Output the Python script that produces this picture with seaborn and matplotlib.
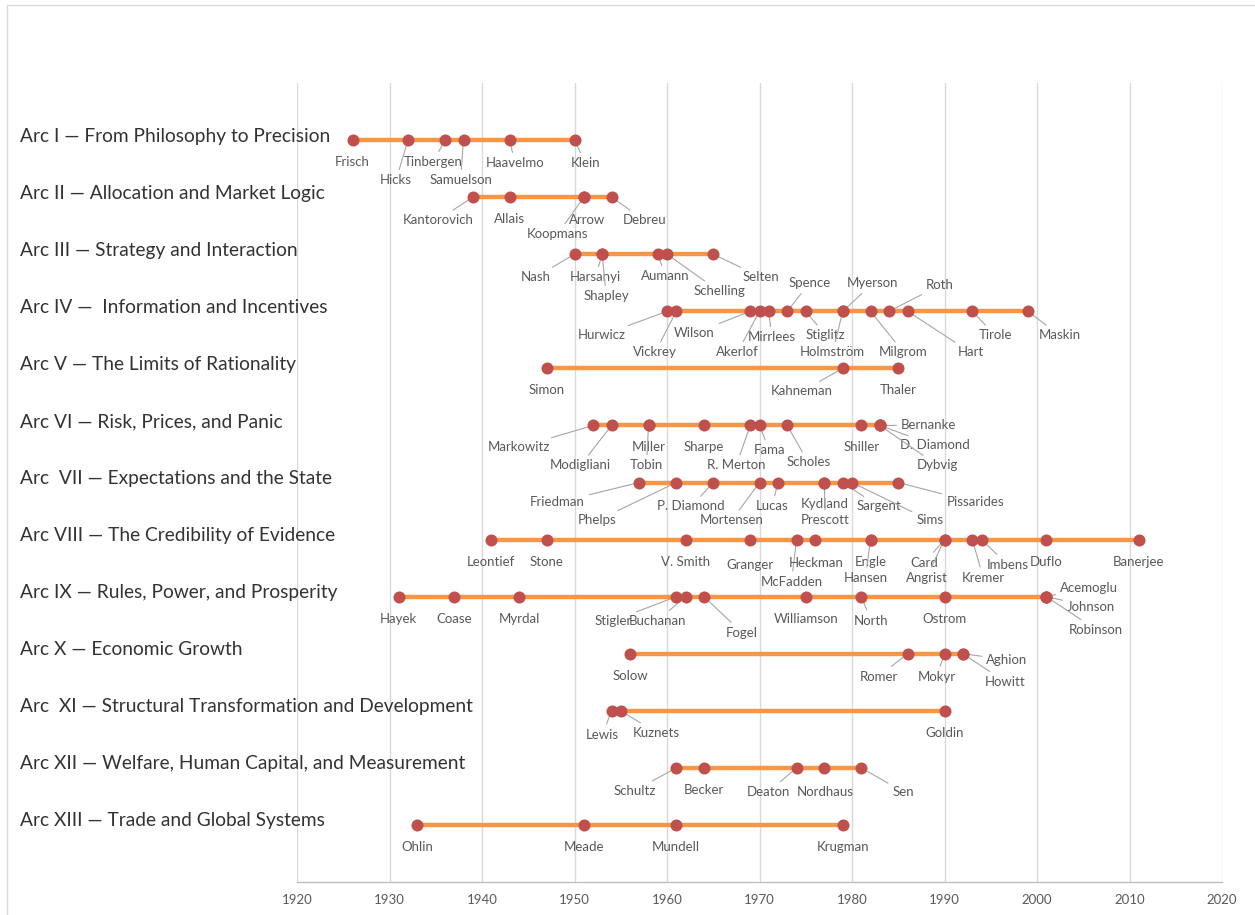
import numpy as np
import pandas as pd
import matplotlib.pyplot as plt
import seaborn as sns
from matplotlib import transforms
from matplotlib.patches import Rectangle

# ---------------------------------------------------------------------
# data: laureates per arc, placed at the year of their key contribution
# ---------------------------------------------------------------------
arc_labels = [
    "Arc I \u2014 From Philosophy to Precision",
    "Arc II \u2014 Allocation and Market Logic",
    "Arc III \u2014 Strategy and Interaction",
    "Arc IV \u2014  Information and Incentives",
    "Arc V \u2014 The Limits of Rationality",
    "Arc VI \u2014 Risk, Prices, and Panic",
    "Arc  VII \u2014 Expectations and the State",
    "Arc VIII \u2014 The Credibility of Evidence",
    "Arc IX \u2014 Rules, Power, and Prosperity",
    "Arc X \u2014 Economic Growth",
    "Arc  XI \u2014 Structural Transformation and Development",
    "Arc XII \u2014 Welfare, Human Capital, and Measurement",
    "Arc XIII \u2014 Trade and Global Systems",
]

arc1_names = ["Frisch", "Hicks", "Tinbergen", "Samuelson", "Haavelmo", "Klein"]
arc1_years = [1926, 1932, 1936, 1938, 1943, 1950]

arc2_names = ["Kantorovich", "Allais", "Arrow", "Koopmans", "Debreu"]
arc2_years = [1939, 1943, 1951, 1951, 1954]

arc3_names = ["Nash", "Harsanyi", "Shapley", "Aumann", "Schelling", "Selten"]
arc3_years = [1950, 1953, 1953, 1959, 1960, 1965]

arc4_names = ["Hurwicz", "Vickrey", "Wilson", "Akerlof", "Mirrlees", "Spence", "Stiglitz",
              "Myerson", "Holmstr\u00f6m", "Milgrom", "Roth", "Hart", "Tirole", "Maskin"]
arc4_years = [1960, 1961, 1969, 1970, 1971, 1973, 1975, 1979, 1979, 1982, 1984, 1986, 1993, 1999]

arc5_names = ["Simon", "Kahneman", "Thaler"]
arc5_years = [1947, 1979, 1985]

arc6_names = ["Markowitz", "Modigliani", "Miller", "Tobin", "Sharpe", "R. Merton", "Fama",
              "Scholes", "Shiller", "Bernanke", "D. Diamond", "Dybvig"]
arc6_years = [1952, 1954, 1958, 1958, 1964, 1969, 1970, 1973, 1981, 1983, 1983, 1983]

arc7_names = ["Friedman", "Phelps", "P. Diamond", "Mortensen", "Lucas", "Kydland", "Prescott",
              "Sargent", "Sims", "Pissarides"]
arc7_years = [1957, 1961, 1965, 1970, 1972, 1977, 1977, 1979, 1980, 1985]

arc8_names = ["Leontief", "Stone", "V. Smith", "Granger", "McFadden", "Heckman", "Engle", "Hansen",
              "Card", "Angrist", "Kremer", "Imbens", "Duflo", "Banerjee"]
arc8_years = [1941, 1947, 1962, 1969, 1974, 1976, 1982, 1982, 1990, 1990, 1993, 1994, 2001, 2011]

arc9_names = ["Hayek", "Coase", "Myrdal", "Stigler", "Buchanan", "Fogel", "Williamson", "North",
              "Ostrom", "Acemoglu", "Johnson", "Robinson"]
arc9_years = [1931, 1937, 1944, 1961, 1962, 1964, 1975, 1981, 1990, 2001, 2001, 2001]

arc10_names = ["Solow", "Romer", "Mokyr", "Aghion", "Howitt"]
arc10_years = [1956, 1986, 1990, 1992, 1992]

arc11_names = ["Lewis", "Kuznets", "Goldin"]
arc11_years = [1954, 1955, 1990]

arc12_names = ["Schultz", "Becker", "Deaton", "Nordhaus", "Sen"]
arc12_years = [1961, 1964, 1974, 1977, 1981]

arc13_names = ["Ohlin", "Meade", "Mundell", "Krugman"]
arc13_years = [1933, 1951, 1961, 1979]

year_ticks = list(range(1920, 2021, 10))

# ---------------------------------------------------------------------
# layout: data label offsets from their marker, in pixels (right, down)
# ---------------------------------------------------------------------
LABEL_OFFSETS = {
    "Hicks": (-12, 40), "Tinbergen": (-12, 22), "Samuelson": (-3, 40), "Haavelmo": (5, 23),
    "Klein": (11, 23),
    "Kantorovich": (-35, 23), "Arrow": (3, 23), "Koopmans": (-26, 37), "Debreu": (33, 23),
    "Nash": (-39, 23), "Harsanyi": (-7, 23), "Shapley": (4, 42), "Aumann": (8, 22),
    "Schelling": (52, 37), "Selten": (48, 23),
    "Hurwicz": (-65, 24), "Vickrey": (-21, 41), "Wilson": (-56, 22), "Akerlof": (-22, 41),
    "Mirrlees": (3, 26), "Spence": (22, -28), "Stiglitz": (20, 24), "Myerson": (30, -28),
    "Holmstr\u00f6m": (-10, 41), "Milgrom": (33, 41), "Roth": (51, -26), "Hart": (63, 41),
    "Tirole": (23, 24), "Maskin": (32, 24),
    "Kahneman": (-41, 23),
    "Markowitz": (-74, 22), "Modigliani": (-31, 40), "Tobin": (-2, 40), "R. Merton": (-14, 40),
    "Fama": (10, 25), "Scholes": (21, 37), "Bernanke": (49, 0), "D. Diamond": (55, 20),
    "Dybvig": (58, 40),
    "Friedman": (-82, 20), "Phelps": (-79, 38), "P. Diamond": (-22, 24), "Mortensen": (-28, 38),
    "Lucas": (-6, 24), "Prescott": (1, 38), "Sargent": (36, 24), "Sims": (78, 38),
    "Pissarides": (77, 20),
    "Granger": (0, 25), "McFadden": (-5, 42), "Heckman": (1, 23), "Hansen": (-5, 38),
    "Card": (-20, 23), "Angrist": (-18, 38), "Kremer": (11, 38), "Imbens": (26, 25),
    "Stigler": (-63, 24), "Buchanan": (-28, 24), "Fogel": (38, 36), "North": (10, 24),
    "Acemoglu": (43, -9), "Johnson": (45, 10), "Robinson": (50, 33),
    "Romer": (-29, 23), "Mokyr": (-8, 23), "Aghion": (44, 6), "Howitt": (42, 28),
    "Lewis": (-9, 24), "Kuznets": (36, 22),
    "Schultz": (-42, 23), "Deaton": (-28, 24), "Nordhaus": (1, 24), "Sen": (42, 24),
}
DEFAULT_OFFSET = (0, 22)

LINE_COLOR = "#F79646"
DOT_COLOR = "#C0504D"
NAME_COLOR = "#595959"
LEADER_COLOR = "#A6A6A6"
GRID_COLOR = "#D9D9D9"

# ---------------------------------------------------------------------
# build long table
# ---------------------------------------------------------------------
all_names = [arc1_names, arc2_names, arc3_names, arc4_names, arc5_names, arc6_names, arc7_names,
             arc8_names, arc9_names, arc10_names, arc11_names, arc12_names, arc13_names]
all_years = [arc1_years, arc2_years, arc3_years, arc4_years, arc5_years, arc6_years, arc7_years,
             arc8_years, arc9_years, arc10_years, arc11_years, arc12_years, arc13_years]

records = []
n_arcs = len(arc_labels)
for i, (names, years) in enumerate(zip(all_names, all_years)):
    for name, yr in zip(names, years):
        records.append({"arc": arc_labels[i], "name": name, "year": yr, "row": n_arcs - i})
df = pd.DataFrame(records)

# ---------------------------------------------------------------------
# plot
# ---------------------------------------------------------------------
sns.set_theme(style="white")
plt.rcParams["font.family"] = ["Lato", "DejaVu Sans"]

W, H = 1255, 915
fig = plt.figure(figsize=(W / 100, H / 100), dpi=100)
ax = fig.add_axes([297 / W, (H - 882) / H, 925 / W, 799 / H])

sns.lineplot(data=df, x="year", y="row", units="arc", estimator=None, sort=True,
             color=LINE_COLOR, lw=3.2, ax=ax, zorder=2)
sns.scatterplot(data=df, x="year", y="row", color=DOT_COLOR, s=75, linewidth=0,
                ax=ax, zorder=4)

ax.set_xlim(year_ticks[0], year_ticks[-1])
ax.set_ylim(0, n_arcs + 1)
ax.set_xticks(year_ticks)
ax.set_yticks([])
ax.set_xlabel("")
ax.set_ylabel("")
ax.tick_params(axis="x", length=0, pad=9, labelsize=9.5, labelcolor=NAME_COLOR)
ax.grid(axis="x", color=GRID_COLOR, lw=1)
ax.grid(axis="y", visible=False)
for side in ["top", "right", "left"]:
    ax.spines[side].set_visible(False)
ax.spines["bottom"].set_color("#BFBFBF")
ax.spines["bottom"].set_linewidth(1)

# data labels with leader lines
for _, r in df.iterrows():
    dx, dy = LABEL_OFFSETS.get(r["name"], DEFAULT_OFFSET)
    leader = abs(dx) > 4 or abs(dy - 22) > 3
    ax.annotate(r["name"], xy=(r["year"], r["row"]), xytext=(dx, -dy),
                textcoords="offset pixels", ha="center", va="center",
                fontsize=9.5, color=NAME_COLOR, zorder=3, annotation_clip=False,
                arrowprops=dict(arrowstyle="-", color=LEADER_COLOR, lw=0.8,
                                shrinkA=1, shrinkB=0) if leader else None)

# arc names at the left
trans = transforms.blended_transform_factory(fig.transFigure, ax.transData)
for i, label in enumerate(arc_labels):
    ax.text(20 / W, n_arcs - i + 0.07, label, transform=trans, ha="left", va="center",
            fontsize=13.8, color="#333333", clip_on=False)

# chart frame
fig.patches.append(Rectangle((7 / W, -0.05), 1.2, (H - 5) / H + 0.05, transform=fig.transFigure,
                             fill=False, edgecolor=GRID_COLOR, lw=1))

fig.savefig("out.png", dpi=100)
